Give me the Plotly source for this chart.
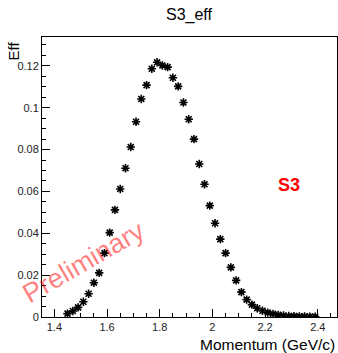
import plotly.graph_objects as go

# Data
momentum = [round(1.45 + 0.02 * i, 2) for i in range(48)]
eff = [0.0016, 0.0029, 0.0046, 0.0073, 0.0111, 0.0164, 0.0211, 0.0305,
       0.0403, 0.0512, 0.0612, 0.0711, 0.0812, 0.0933,
       0.1042, 0.1108, 0.1186, 0.1217, 0.1202, 0.1194, 0.1143, 0.1102, 0.1025, 0.0945,
       0.0850, 0.0731, 0.0634, 0.0532, 0.0448, 0.0372,
       0.0305, 0.0237, 0.0175, 0.0119, 0.0083, 0.0059, 0.0042, 0.0030,
       0.0021, 0.0015, 0.0010, 0.0007, 0.0005, 0.0004, 0.0003, 0.0003, 0.0002, 0.0002]

x_ticks = [1.4, 1.6, 1.8, 2.0, 2.2, 2.4]
x_tick_labels = ["1.4", "1.6", "1.8", "2", "2.2", "2.4"]
y_ticks = [0, 0.02, 0.04, 0.06, 0.08, 0.10, 0.12]
y_tick_labels = ["0", "0.02", "0.04", "0.06", "0.08", "0.1", "0.12"]

W, H = 338, 353
L, R, T, B = 42, 1, 37, 36
pw, ph = W - L - R, H - T - B

def px(xp):
    return (xp - L) / pw

def py(yp):
    return (H - B - yp) / ph

FONT = "Liberation Sans, Arial, Helvetica, sans-serif"

fig = go.Figure()
fig.add_trace(go.Scatter(
    x=momentum, y=eff, mode="markers",
    marker=dict(symbol="asterisk-open", size=7, color="black",
                line=dict(color="black", width=1.6)),
    showlegend=False, hoverinfo="x+y"))

fig.update_layout(
    width=W, height=H,
    margin=dict(l=L, r=R, t=T, b=B, pad=0),
    paper_bgcolor="white", plot_bgcolor="white",
    font=dict(family=FONT, color="black"),
    showlegend=False,
)

fig.update_xaxes(
    range=[1.353, 2.473], showgrid=False, zeroline=False,
    showline=True, linecolor="black", linewidth=1, mirror=True,
    ticks="inside", ticklen=8, tickwidth=1, tickcolor="black",
    tickvals=x_ticks, ticktext=x_tick_labels,
    tickfont=dict(size=11, color="#222"),
    minor=dict(dtick=0.05, tick0=1.4, ticks="inside", ticklen=4, tickcolor="black", showgrid=False),
)
fig.update_yaxes(
    range=[0, 0.1338], showgrid=False, zeroline=False,
    showline=True, linecolor="black", linewidth=1, mirror=True,
    ticks="inside", ticklen=8, tickwidth=1, tickcolor="black",
    tickvals=y_ticks, ticktext=y_tick_labels,
    tickfont=dict(size=11, color="#222"),
    minor=dict(dtick=0.005, tick0=0, ticks="inside", ticklen=4, tickcolor="black", showgrid=False),
)

annotations = [
    dict(text="S3_eff", x=px(189.5), y=py(15), xref="paper", yref="paper",
         showarrow=False, font=dict(size=16, family=FONT, color="black"),
         xanchor="center", yanchor="middle"),
    dict(text="Eff", x=px(13), y=py(40), xref="paper", yref="paper",
         showarrow=False, textangle=-90, font=dict(size=15, family=FONT, color="black"),
         xanchor="center", yanchor="top"),
    dict(text="Momentum (GeV/c)", x=px(337), y=py(344), xref="paper", yref="paper",
         showarrow=False, font=dict(size=15.5, family=FONT, color="black"),
         xanchor="right", yanchor="middle"),
    dict(text="<b>S3</b>", x=px(289), y=py(185), xref="paper", yref="paper",
         showarrow=False, font=dict(size=18, family=FONT, color="red"),
         xanchor="center", yanchor="middle"),
    dict(text="Preliminary", x=px(84), y=py(262), xref="paper", yref="paper",
         showarrow=False, textangle=-30, font=dict(size=27, family=FONT, color="rgba(255,0,0,0.5)"),
         xanchor="center", yanchor="middle"),
]
fig.update_layout(annotations=annotations)

fig.write_html("out.html", config={"displayModeBar": False},
               post_script="document.body.style.margin='0';document.body.style.padding='0';")
